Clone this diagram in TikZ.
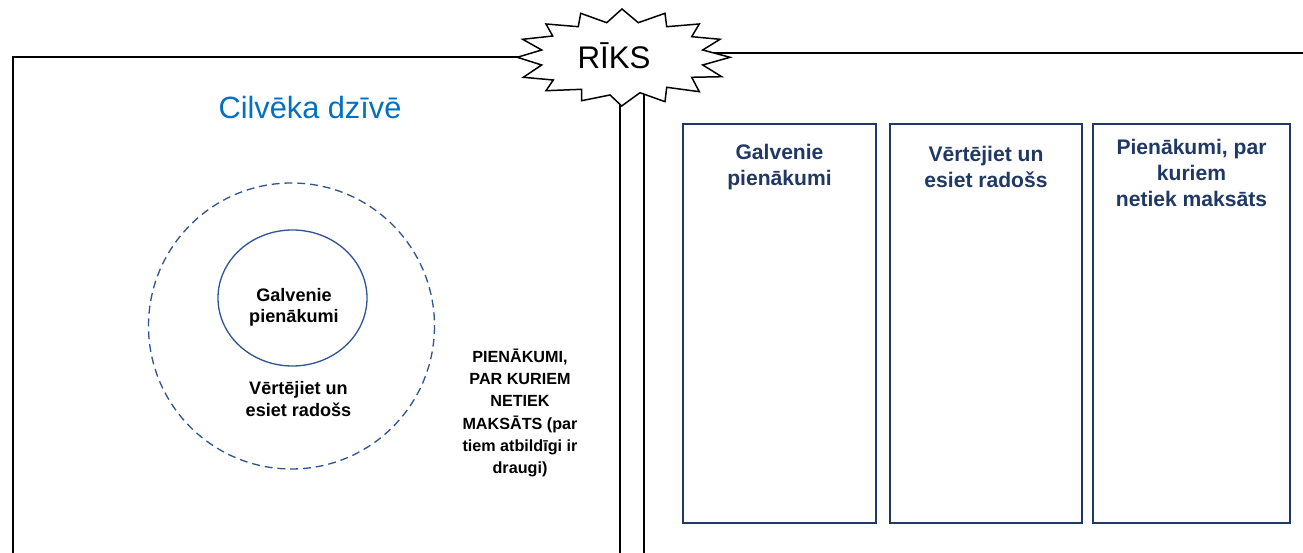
\documentclass[tikz,border=0pt]{standalone}
\usepackage{fontspec}
\setmainfont{Liberation Sans}
\definecolor{zils}{HTML}{0070C0}
\definecolor{tumszils}{HTML}{1F3864}
\definecolor{aplzils}{HTML}{2F5496}
\tikzset{
  rami/.style={black,line width=0.85pt},
  kaste/.style={draw=tumszils,line width=1.1pt},
  kteksts/.style={tumszils,font=\fontsize{12}{14.8}\selectfont\bfseries,align=center},
  ateksts/.style={font=\fontsize{10.3}{12}\selectfont\bfseries,align=center},
  aplis/.style={draw=aplzils,line width=0.75pt},
  sprad/.style={rami,fill=white,line join=miter},
}
\begin{document}
\begin{tikzpicture}[x=0.02cm,y=-0.02cm]
  \useasboundingbox (0,0) rectangle (1303,553);
  % rami
  \coordinate (kreisais) at (13,553);
  \coordinate (kreisgals) at (580,57);
  \coordinate (labais) at (1303,53);
  \coordinate (labgals) at (680,53);
  \draw[rami] (kreisais) |- (kreisgals);
  \draw[rami] (labais) -- (labgals);
  \draw[rami] (620,553) -- (620,80);
  \draw[rami] (644,553) -- (644,80);
  % riks
  \draw[sprad] (517.3,57.3) -- (541.7,50) -- (522.7,39.3) -- (552.7,36) -- (546,24)
    -- (578.3,26.7) -- (580.7,13.3) -- (606.7,22.7) -- (622,9) -- (638.3,22.7) -- (665,13.3)
    -- (666.7,26.7) -- (699.3,24) -- (691.7,36.7) -- (720,39.3) -- (702.7,50) -- (730,57.3)
    -- (702.7,65) -- (721.7,76.7) -- (691.7,77.3) -- (699.3,91.7) -- (666.7,87.3) -- (665,101.7)
    -- (640,92.7) -- (621.7,106) -- (610,95) -- (581.7,100.7) -- (581.7,89.3) -- (546,90.7)
    -- (553.3,80) -- (523.3,77.3) -- (541.7,65) -- cycle;
  \node[font=\fontsize{17.8}{17.8}\selectfont] (riks) at (614,56) {RĪKS};
  % cilveka dzive
  \node[zils,font=\fontsize{17.5}{17.5}\selectfont] (virsraksts) at (310,108) {Cilvēka dzīvē};
  \draw[aplis,dash pattern=on 4.5pt off 2.8pt] (291.5,326) circle (143);
  \draw[aplis] (292.5,298) ellipse (74.5 and 68);
  \node[ateksts] (galv) at (294,307) {Galvenie\\pienākumi};
  \node[ateksts] (vert) at (298.5,399) {Vērtējiet un\\esiet radošs};
  \node[ateksts,font=\fontsize{9.2}{12.7}\selectfont\bfseries] (piem) at (520,413)
    {PIENĀKUMI,\\PAR KURIEM\\NETIEK\\MAKSĀTS (par\\tiem atbildīgi ir\\draugi)};
  % kastes
  \draw[kaste] (683,124) rectangle (876,523);
  \draw[kaste] (890,124) rectangle (1082,523);
  \draw[kaste] (1093,124) rectangle (1290,523);
  \node[kteksts] (k1) at (779.5,167) {Galvenie\\pienākumi};
  \node[kteksts] (k2) at (986,167) {Vērtējiet un\\esiet radošs};
  \node[kteksts] (k3) at (1191.5,173) {Pienākumi, par\\kuriem\\netiek maksāts};
\end{tikzpicture}
\end{document}
